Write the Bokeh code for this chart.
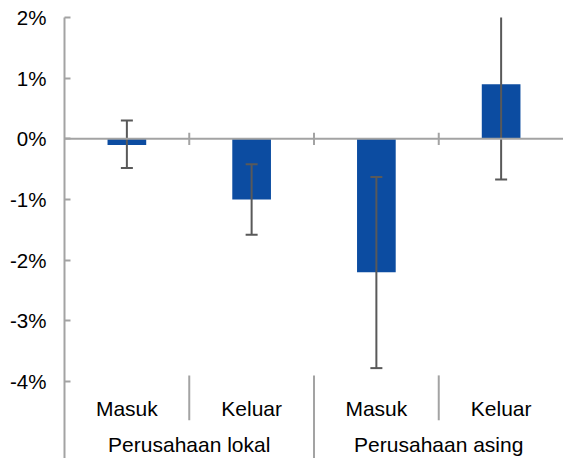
from bokeh.plotting import figure
from bokeh.models import Range1d, FixedTicker, Span, ColumnDataSource
from bokeh.core.properties import value
from bokeh.embed import file_html
from bokeh.resources import INLINE

# Data
groups = ["Perusahaan lokal", "Perusahaan asing"]
subcats = ["Masuk", "Keluar", "Masuk", "Keluar"]
values = [-0.1, -1.0, -2.2, 0.9]
err_low = [-0.48, -1.58, -3.78, -0.67]
err_high = [0.30, -0.42, -0.63, 2.10]
y_ticks = [-4, -3, -2, -1, 0, 1, 2]
y_tick_labels = ["-4%", "-3%", "-2%", "-1%", "0%", "1%", "2%"]

FONT = "Liberation Sans"
BAR_COLOR = "#0c4ca1"
ERR_COLOR = "#595959"
AXIS_COLOR = "#a3a3a3"

n = len(values)
xs = list(range(1, n + 1))
YMIN = -5.27
YMAX = 2.0

p = figure(width=563, height=458, output_backend="svg", toolbar_location=None,
           x_range=Range1d(0.5, n + 0.5), y_range=Range1d(YMIN, YMAX),
           min_border_left=64, min_border_right=0, min_border_top=17, min_border_bottom=0)
p.outline_line_color = None
p.xgrid.visible = False
p.ygrid.visible = False
p.xaxis.visible = False

ax = p.yaxis[0]
ax.ticker = FixedTicker(ticks=y_ticks)
ax.major_label_overrides = {t: l for t, l in zip(y_ticks, y_tick_labels)}
ax.major_label_text_font = FONT
ax.major_label_text_font_size = "20.5px"
ax.major_label_text_color = "black"
ax.major_label_standoff = 18
ax.axis_line_color = AXIS_COLOR
ax.axis_line_width = 2
ax.major_tick_line_color = AXIS_COLOR
ax.major_tick_line_width = 2
ax.major_tick_in = 6
ax.major_tick_out = 0
ax.minor_tick_line_color = None

src = ColumnDataSource(dict(x=xs, top=values, lo=err_low, hi=err_high))
p.vbar(x="x", top="top", bottom=0, width=0.31, source=src,
       fill_color=BAR_COLOR, line_color=None)

# horizontal axis at 0
p.add_layout(Span(location=0, dimension="width", line_color=AXIS_COLOR, line_width=2))
bounds = [i + 0.5 for i in xs[:-1]]
p.segment(x0=bounds, x1=bounds, y0=[-0.1] * len(bounds), y1=[0.1] * len(bounds),
          line_color=AXIS_COLOR, line_width=2)

# error bars
p.segment(x0="x", x1="x", y0="lo", y1="hi", source=src, line_color=ERR_COLOR, line_width=2)
p.dash(x="x", y="lo", source=src, size=12, line_color=ERR_COLOR, line_width=2)
p.dash(x="x", y="hi", source=src, size=12, line_color=ERR_COLOR, line_width=2)

# category labels
p.text(x=xs, y=[-4.445] * n, text=subcats, text_align="center", text_baseline="middle",
       text_font=value(FONT), text_font_size="21px", text_color="black")
gx = [(xs[0] + xs[1]) / 2, (xs[2] + xs[3]) / 2]
p.text(x=gx, y=[-5.04] * 2, text=groups, text_align="center", text_baseline="middle",
       text_font=value(FONT), text_font_size="21px", text_color="black")

# separators
sub_sep = [bounds[0], bounds[2]]
p.segment(x0=sub_sep, x1=sub_sep, y0=[-3.9] * 2, y1=[-4.64] * 2,
          line_color=AXIS_COLOR, line_width=2)
p.segment(x0=[bounds[1]], x1=[bounds[1]], y0=[-3.9], y1=[YMIN],
          line_color=AXIS_COLOR, line_width=2)

open("out.html", "w").write(file_html(p, INLINE))
